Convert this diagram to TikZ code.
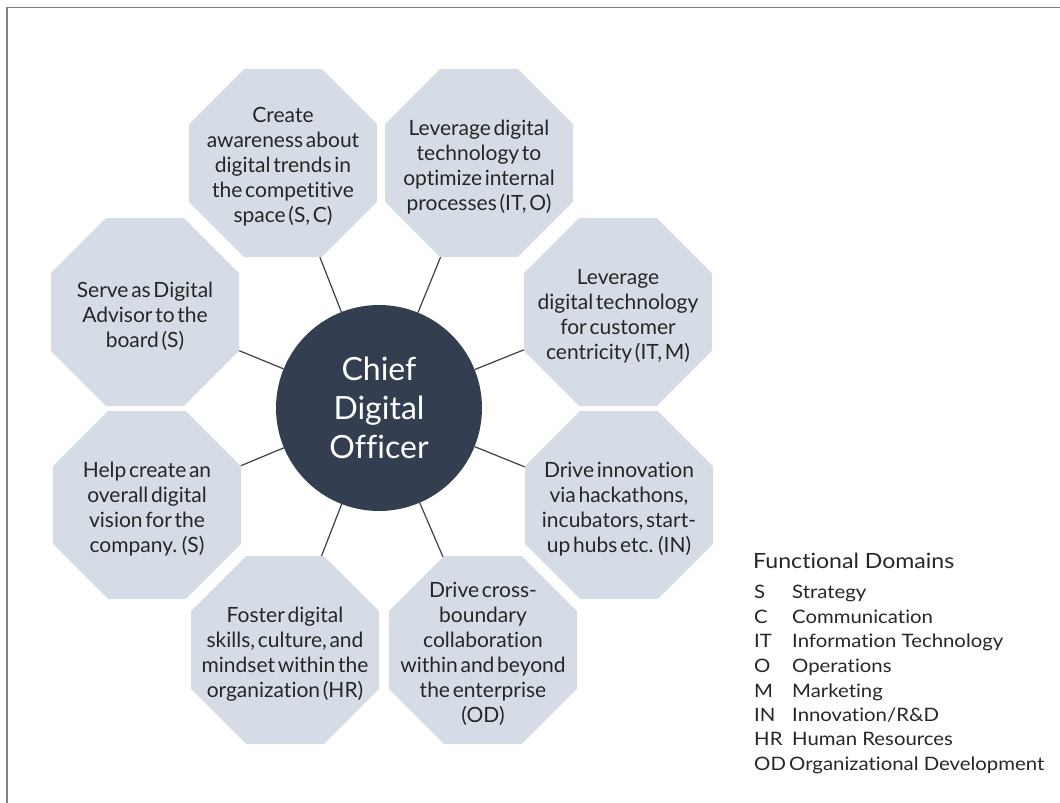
\documentclass[tikz,border=0pt]{standalone}
\usepackage{fontspec}
\setmainfont{Lato}[RawFeature={-liga;-clig;-calt;-dlig}]
\newfontfamily\octfont{Lato}[WordSpace=0.5,RawFeature={-liga;-clig;-calt;-dlig}]
\newfontfamily\legfont{Lato}[FakeStretch=1.1,RawFeature={-liga;-clig;-calt;-dlig}]
\usetikzlibrary{shapes.geometric}
\definecolor{octfill}{HTML}{D6DCE5}
\definecolor{hubfill}{HTML}{333F50}
\definecolor{txt}{HTML}{262626}
\definecolor{conn}{HTML}{404040}
\definecolor{framec}{HTML}{808080}
\begin{document}
\begin{tikzpicture}[x=1pt,y=-1pt,
  oct/.style={regular polygon, regular polygon sides=8, minimum size=203.5pt, inner sep=0pt, fill=octfill, draw=none},
  octtext/.style={align=center, text=txt, font=\octfont\fontsize{21}{25}\selectfont, inner sep=0pt, yshift=-4pt},
  hub/.style={circle, fill=hubfill, minimum size=206pt, inner sep=0pt, align=center, text=white, font=\fontsize{32}{39}\selectfont},
  link/.style={draw=conn, line width=1.2pt},
  legtitle/.style={anchor=base west, inner sep=0pt, text=txt, font=\legfont\fontsize{21}{25}\selectfont},
  legitem/.style={anchor=base west, inner sep=0pt, text=txt, font=\legfont\fontsize{18.5}{24}\selectfont}
]
\useasboundingbox (0,0) rectangle (1060,803);
\draw[framec, line width=1.5pt] (7,803) -- (7,7.5) -- (1060,7.5);

\node[hub] (cdo) at (379,408) {Chief\\Digital\\Officer};

\node[oct] (o1) at (283,163) {};
\node[oct] (o2) at (479,163) {};
\node[oct] (o3) at (618,312) {};
\node[oct] (o4) at (619,505) {};
\node[oct] (o5) at (483,650) {};
\node[oct] (o6) at (285,650) {};
\node[oct] (o7) at (147,505) {};
\node[oct] (o8) at (145,312) {};

\node[octtext] (t1) at (o1) {Create\\awareness about\\digital trends in\\the competitive\\space (S, C)};
\node[octtext] (t2) at (o2) {Leverage digital\\technology to\\optimize internal\\processes (IT, O)};
\node[octtext] (t3) at (o3) {Leverage\\digital technology\\for customer\\centricity (IT, M)};
\node[octtext] (t4) at (o4) {Drive innovation\\via hackathons,\\incubators, start-\\up hubs etc. (IN)};
\node[octtext] (t5) at (o5) {Drive cross-\\boundary\\collaboration\\within and beyond\\the enterprise\\(OD)};
\node[octtext] (t6) at (o6) {Foster digital\\skills, culture, and\\mindset within the\\organization (HR)};
\node[octtext] (t7) at (o7) {Help create an\\overall digital\\vision for the\\company. (S)};
\node[octtext] (t8) at (o8) {Serve as Digital\\Advisor to the\\board (S)};

\foreach \o in {o1,o2,o3,o4,o5,o6,o7,o8}
  \draw[link] (cdo) -- (\o);

\node[legtitle] (lg) at (753,568) {Functional Domains};
\node[legitem] (aS) at (754,598) {S};   \node[legitem] (dS) at (792,598) {Strategy};
\node[legitem] (aC) at (754,623) {C};   \node[legitem] (dC) at (792,623) {Communication};
\node[legitem] (aIT) at (754,647) {IT}; \node[legitem] (dIT) at (792,647) {Information Technology};
\node[legitem] (aO) at (754,672) {O};   \node[legitem] (dO) at (792,672) {Operations};
\node[legitem] (aM) at (754,697) {M};   \node[legitem] (dM) at (792,697) {Marketing};
\node[legitem] (aIN) at (754,721) {IN}; \node[legitem] (dIN) at (792,721) {Innovation/R\&D};
\node[legitem] (aHR) at (754,745) {HR}; \node[legitem] (dHR) at (792,745) {Human Resources};
\node[legitem] (aOD) at (754,770) {OD}; \node[legitem] (dOD) at (789,770) {Organizational Development};
\end{tikzpicture}
\end{document}
